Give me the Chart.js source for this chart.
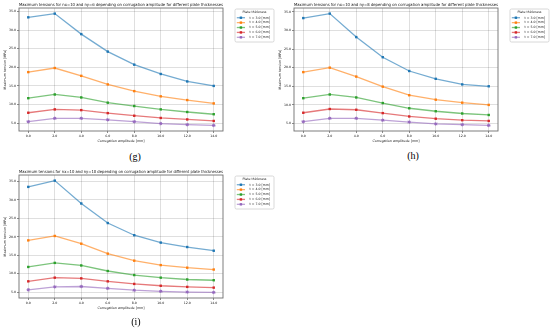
<!DOCTYPE html>
<html>
<head>
<meta charset="utf-8">
<script src="https://cdn.jsdelivr.net/npm/chart.js@4.4.1/dist/chart.umd.min.js"></script>
<style>
  body { margin: 0; background: #fff; width: 550px; height: 329px; position: relative; overflow: hidden; }
  .panel { position: absolute; width: 275px; height: 150px; }
  .cap { position: absolute; width: 40px; text-align: center; font-family: "Liberation Serif", serif; font-size: 10px; line-height: 11px; color: #000; }
</style>
</head>
<body>
<div class="panel" style="left:0;top:0"><canvas id="chartG"></canvas></div>
<div class="panel" style="left:275px;top:0"><canvas id="chartH"></canvas></div>
<div class="panel" style="left:0;top:167px"><canvas id="chartI"></canvas></div>
<div class="cap" style="left:115px;top:151px">(g)</div>
<div class="cap" style="left:393px;top:150px">(h)</div>
<div class="cap" style="left:116px;top:316px">(i)</div>

<script>
// corrugation amplitude [mm] (x axis)
const amplitudes = [0, 2, 4, 6, 8, 10, 12, 14];
const yTicks = [5, 10, 15, 20, 25, 30, 35];
const thicknessLabels = ['t = 3.0 [mm]', 't = 4.0 [mm]', 't = 5.0 [mm]', 't = 6.0 [mm]', 't = 7.0 [mm]'];

// nx=10, ny=6
const g_t3 = [33.4, 34.4, 28.9, 24.2, 20.7, 18.2, 16.2, 15.0];
const g_t4 = [18.7, 19.8, 17.7, 15.4, 13.6, 12.2, 11.2, 10.3];
const g_t5 = [11.7, 12.7, 11.9, 10.5, 9.6, 8.7, 8.0, 7.4];
const g_t6 = [7.8, 8.7, 8.5, 7.7, 7.0, 6.4, 6.0, 5.6];
const g_t7 = [5.4, 6.3, 6.3, 5.9, 5.4, 4.9, 4.6, 4.4];

// nx=10, ny=8
const h_t3 = [33.3, 34.5, 28.2, 22.8, 19.1, 17.0, 15.5, 15.0];
const h_t4 = [18.8, 20.0, 17.6, 14.9, 12.6, 11.4, 10.6, 10.0];
const h_t5 = [11.8, 12.8, 12.0, 10.5, 9.1, 8.3, 7.7, 7.3];
const h_t6 = [7.9, 8.9, 8.7, 7.8, 6.9, 6.3, 5.9, 5.7];
const h_t7 = [5.5, 6.4, 6.4, 5.9, 5.4, 4.9, 4.7, 4.5];

// nx=10, ny=10
const i_t3 = [33.5, 35.2, 29.0, 23.7, 20.4, 18.4, 17.2, 16.2];
const i_t4 = [19.0, 20.2, 18.1, 15.4, 13.5, 12.3, 11.6, 11.1];
const i_t5 = [11.8, 12.9, 12.2, 10.7, 9.6, 8.9, 8.4, 8.2];
const i_t6 = [7.9, 8.9, 8.7, 7.9, 7.2, 6.7, 6.4, 6.2];
const i_t7 = [5.6, 6.4, 6.5, 6.0, 5.5, 5.2, 5.0, 4.9];

const colors = ['31,119,180', '255,127,14', '44,160,44', '214,39,40', '148,103,189'];
const markers = ['rect', 'rect', 'rect', 'rect', 'star'];
const FONT = 'DejaVu Sans';
const TXT = '#111';

// frame around the plot + matplotlib-like legend box
const framePlugin = {
    id: 'frame',
    afterDraw(chart) {
        const { ctx, chartArea: a } = chart;
        ctx.save();
        ctx.strokeStyle = '#6f6f6f';
        ctx.lineWidth = 0.9;
        ctx.strokeRect(a.left, a.top, a.right - a.left, a.bottom - a.top);

        // legend
        const x0 = a.right + 12, y0 = a.top + 1, w = 39, h = 33;
        ctx.fillStyle = '#fff';
        ctx.strokeStyle = '#c8c8c8';
        ctx.lineWidth = 0.7;
        ctx.beginPath();
        ctx.roundRect(x0, y0, w, h, 1.5);
        ctx.fill();
        ctx.stroke();
        ctx.fillStyle = TXT;
        ctx.font = '3.2px "' + FONT + '"';
        ctx.textBaseline = 'middle';
        ctx.textAlign = 'center';
        ctx.fillText('Plate thickness', x0 + w / 2, y0 + 3.6);
        ctx.textAlign = 'left';
        chart.data.datasets.forEach((ds, k) => {
            const y = y0 + 8.7 + k * 4.9;
            ctx.strokeStyle = ds.borderColor;
            ctx.lineWidth = 1.3;
            ctx.beginPath();
            ctx.moveTo(x0 + 1.8, y);
            ctx.lineTo(x0 + 10, y);
            ctx.stroke();
            ctx.fillStyle = ds.pointBackgroundColor;
            ctx.fillRect(x0 + 5.9 - 1.2, y - 1.2, 2.4, 2.4);
            ctx.fillStyle = TXT;
            ctx.fillText(ds.label, x0 + 14.5, y);
        });
        ctx.restore();
    }
};

function makeChart(id, title, series) {
    const all = series.flat();
    const lo = Math.min(...all), hi = Math.max(...all);
    const m = (hi - lo) * 0.05;
    const ctx = document.getElementById(id).getContext('2d');
    return new Chart(ctx, {
        type: 'line',
        data: {
            datasets: series.map((vals, k) => ({
                label: thicknessLabels[k],
                data: vals.map((v, j) => ({ x: amplitudes[j], y: v })),
                borderColor: 'rgba(' + colors[k] + ',0.62)',
                borderWidth: 1.3,
                pointStyle: markers[k],
                pointRadius: 1.7,
                pointBorderWidth: markers[k] === 'star' ? 1 : 0,
                pointBackgroundColor: 'rgb(' + colors[k] + ')',
                pointBorderColor: 'rgb(' + colors[k] + ')',
                tension: 0
            }))
        },
        options: {
            responsive: true,
            maintainAspectRatio: false,
            animation: false,
            layout: { padding: { left: 0, right: 52, top: 0, bottom: 4 } },
            scales: {
                x: {
                    type: 'linear',
                    min: -0.7,
                    max: 14.7,
                    afterFit: s => { s.height = 15; },
                    afterBuildTicks: s => { s.ticks = amplitudes.map(v => ({ value: v })); },
                    ticks: { font: { family: FONT, size: 3.2 }, color: TXT, padding: 1, maxRotation: 0, callback: v => v.toFixed(1) },
                    grid: { color: 'rgba(0,0,0,0.16)', lineWidth: 0.8, tickLength: 2, tickColor: '#6f6f6f' },
                    border: { display: false },
                    title: { display: true, text: 'Corrugation amplitude [mm]', font: { family: FONT, size: 3.3 }, color: TXT, padding: { top: 0, bottom: 2.9 } }
                },
                y: {
                    min: lo - m,
                    max: hi + m,
                    afterFit: s => { s.width = 19; },
                    afterBuildTicks: s => { s.ticks = yTicks.filter(v => v >= s.min && v <= s.max).map(v => ({ value: v })); },
                    ticks: { font: { family: FONT, size: 3.2 }, color: TXT, padding: 1, callback: v => v.toFixed(1) },
                    grid: { color: 'rgba(0,0,0,0.16)', lineWidth: 0.8, tickLength: 2, tickColor: '#6f6f6f' },
                    border: { display: false },
                    title: { display: true, text: 'Maximum tension [MPa]', font: { family: FONT, size: 3.3 }, color: TXT, padding: { top: 3, bottom: 0 } }
                }
            },
            plugins: {
                legend: { display: false },
                tooltip: { enabled: false },
                title: {
                    display: true,
                    fullSize: false,
                    text: title,
                    color: TXT,
                    font: { family: FONT, size: 4.1, weight: 'normal' },
                    padding: { top: 2, bottom: 1.1 }
                }
            }
        },
        plugins: [framePlugin]
    });
}

window.onload = () => {
    makeChart('chartG', 'Maximum tensions for nx=10 and ny=6 depending on corrugation amplitude for different plate thicknesses', [g_t3, g_t4, g_t5, g_t6, g_t7]);
    makeChart('chartH', 'Maximum tensions for nx=10 and ny=8 depending on corrugation amplitude for different plate thicknesses', [h_t3, h_t4, h_t5, h_t6, h_t7]);
    makeChart('chartI', 'Maximum tensions for nx=10 and ny=10 depending on corrugation amplitude for different plate thicknesses', [i_t3, i_t4, i_t5, i_t6, i_t7]);
};
</script>
</body>
</html>
